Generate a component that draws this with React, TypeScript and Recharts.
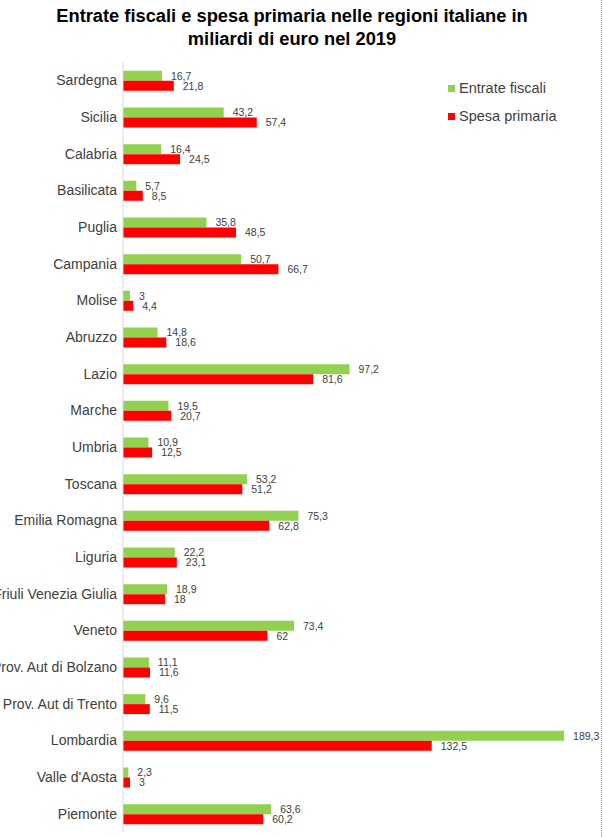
import { BarChart, Bar, XAxis, YAxis, LabelList } from 'recharts';

const regioni = [
  'Sardegna', 'Sicilia', 'Calabria', 'Basilicata', 'Puglia', 'Campania', 'Molise',
  'Abruzzo', 'Lazio', 'Marche', 'Umbria', 'Toscana', 'Emilia Romagna', 'Liguria',
  'Friuli Venezia Giulia', 'Veneto', 'Prov. Aut di Bolzano', 'Prov. Aut di Trento',
  'Lombardia', "Valle d'Aosta", 'Piemonte',
];
const entrate = [16.7, 43.2, 16.4, 5.7, 35.8, 50.7, 3, 14.8, 97.2, 19.5, 10.9, 53.2, 75.3, 22.2, 18.9, 73.4, 11.1, 9.6, 189.3, 2.3, 63.6];
const spesa = [21.8, 57.4, 24.5, 8.5, 48.5, 66.7, 4.4, 18.6, 81.6, 20.7, 12.5, 51.2, 62.8, 23.1, 18, 62, 11.6, 11.5, 132.5, 3, 60.2];
const serie = [
  { key: 'entrate', label: 'Entrate fiscali', color: '#92D050' },
  { key: 'spesa', label: 'Spesa primaria', color: '#FF0000' },
];

const data = regioni.map((r, i) => ({ name: r, entrate: entrate[i], spesa: spesa[i] }));

const TXT = '#404040';
const FONT = '"Liberation Sans", Arial, sans-serif';

const fmt = (v: any) => String(v).replace('.', ',');

// single-line tick, lets long names run off the left edge like the original
function RegionTick(props: any) {
  const { x, y, payload } = props;
  return (
    <text x={x} y={y} dy="0.355em" textAnchor="end" fill={TXT} fontSize={14} fontFamily={FONT}>
      {payload.value}
    </text>
  );
}

export default function App() {
  return (
    <div style={{ position: 'absolute', left: 0, top: 0, width: 604, height: 837, background: '#fff', overflow: 'hidden' }}>
      <div
        style={{
          position: 'absolute', left: 0, top: 4, width: 584, textAlign: 'center',
          fontFamily: FONT, fontWeight: 'bold', fontSize: 18.3, lineHeight: '23px', color: '#000',
          whiteSpace: 'nowrap',
        }}
      >
        Entrate fiscali e spesa primaria nelle regioni italiane in<br />miliardi di euro nel 2019
      </div>
      <div style={{ position: 'absolute', left: 601, top: 0, height: 837, borderLeft: '1px dotted #999' }} />
      <div style={{ position: 'absolute', left: 448, top: 74, fontFamily: FONT, fontSize: 14.5, color: TXT }}>
        {serie.map((s) => (
          <div key={s.key} style={{ display: 'flex', alignItems: 'center', height: 28 }}>
            <span style={{ width: 7, height: 7, background: s.color, marginRight: 4 }} />
            {s.label}
          </div>
        ))}
      </div>
      <div style={{ position: 'absolute', left: 0, top: 0 }}>
        <BarChart
          width={604}
          height={837}
          data={data}
          layout="vertical"
          margin={{ top: 62, right: 15, bottom: 5, left: 0 }}
          barCategoryGap="24%"
          barGap={0}
        >
          <XAxis type="number" domain={[0, 200]} hide />
          <YAxis
            type="category"
            dataKey="name"
            width={123}
            tickLine={false}
            tickSize={0}
            tickMargin={6}
            axisLine={{ stroke: '#d9d9d9' }}
            interval={0}
            tick={<RegionTick />}
          />
          {serie.map((s) => (
            <Bar key={s.key} dataKey={s.key} name={s.label} fill={s.color} isAnimationActive={false}>
              <LabelList dataKey={s.key} position="right" offset={9} formatter={fmt} fill={TXT} fontSize={10.5} fontFamily={FONT} />
            </Bar>
          ))}
        </BarChart>
      </div>
    </div>
  );
}
